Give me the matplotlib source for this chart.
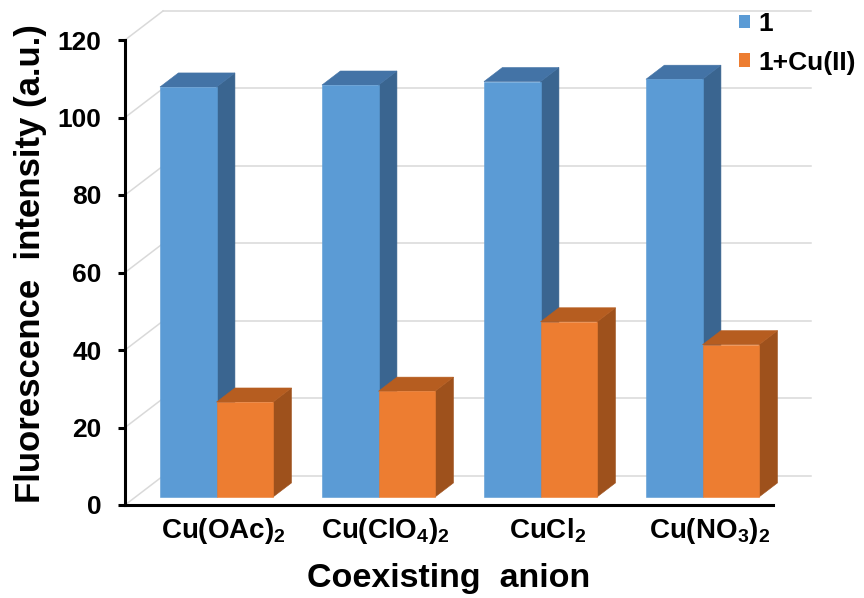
import numpy as np
import matplotlib.pyplot as plt
from matplotlib.patches import Polygon, Patch

plt.rcParams['font.family'] = ['Liberation Sans', 'DejaVu Sans']
plt.rcParams['font.weight'] = 'bold'
plt.rcParams['mathtext.fontset'] = 'custom'
plt.rcParams['mathtext.rm'] = 'Liberation Sans:bold'
plt.rcParams['mathtext.default'] = 'rm'

# fluorescence of 1 alone and with Cu(II) for each copper salt
anions = [r'Cu(OAc)$_2$', r'Cu(ClO$_4$)$_2$', r'CuCl$_2$', r'Cu(NO$_3$)$_2$']
probe = [105.8, 106.3, 107.2, 107.8]
probe_cu = [24.5, 27.3, 45.2, 39.3]
series_names = ['1', '1+Cu(II)']
yticks = [0, 20, 40, 60, 80, 100, 120]

# face colours: front, top, side
blue = ('#5B9BD5', '#4373A6', '#3A6590')
orange = ('#ED7D31', '#B65D20', '#9E511C')

# oblique depth of the 3d box, in data units
DX, DY = 0.235, 7.5
Z0, Z1 = 0.276, 0.76
W = 0.349


def project(x, v, z):
    return (x + z * DX, v + z * DY)


def draw_bar(ax, x0, h, colors):
    x1 = x0 + W
    front = [project(x0, 0, Z0), project(x1, 0, Z0), project(x1, h, Z0), project(x0, h, Z0)]
    top = [project(x0, h, Z0), project(x1, h, Z0), project(x1, h, Z1), project(x0, h, Z1)]
    side = [project(x1, 0, Z0), project(x1, 0, Z1), project(x1, h, Z1), project(x1, h, Z0)]
    for pts, c in zip([side, top, front], [colors[2], colors[1], colors[0]]):
        ax.add_patch(Polygon(pts, closed=True, facecolor=c, edgecolor=c,
                             lw=0.4, zorder=3, clip_on=False))


fig = plt.figure(figsize=(8.64, 5.98), dpi=100)
ax = fig.add_axes([125 / 864, 93 / 598, 648 / 864, 465 / 598])
ax.set_xlim(0, len(anions))
ax.set_ylim(0, 120)

# back wall and side wall gridlines
for v in yticks:
    ax.plot([0, DX], [v, v + DY], color='#D9D9D9', lw=1.1, zorder=1, clip_on=False)
    ax.plot([DX, len(anions) + DX], [v + DY, v + DY], color='#D9D9D9', lw=1.1,
            zorder=1, clip_on=False)

for i in range(len(anions)):
    start = i + 0.5 - W
    draw_bar(ax, start, probe[i], blue)
    draw_bar(ax, start + W, probe_cu[i], orange)

for side in ['top', 'right']:
    ax.spines[side].set_visible(False)
for side in ['left', 'bottom']:
    ax.spines[side].set_linewidth(2.2)
    ax.spines[side].set_zorder(4)

ax.set_yticks(yticks)
ax.set_xticks(np.arange(len(anions)) + 0.5 + 0.11)
ax.set_xticklabels(anions)
ax.tick_params(axis='y', direction='out', length=5, width=2.2, labelsize=19, pad=12)
ax.tick_params(axis='x', length=0, labelsize=20, pad=8)

fig.text(31 / 864, 1 - 264 / 598, 'Fluorescence  intensity (a.u.)', rotation=90,
         ha='center', va='center', fontsize=25, fontweight='bold')
fig.text(449 / 864, 1 - 578 / 598, 'Coexisting  anion', ha='center', va='center',
         fontsize=24.5, fontweight='bold')

handles = [Patch(facecolor=blue[0]), Patch(facecolor=orange[0])]
fig.legend(handles, series_names, loc='upper left', bbox_to_anchor=(739 / 864, 1 - 12 / 598),
           frameon=False, fontsize=19, handlelength=0.42, handleheight=0.42,
           handletextpad=0.3, labelspacing=0.55, borderpad=0, borderaxespad=0)

fig.savefig('out.png', dpi=100)
